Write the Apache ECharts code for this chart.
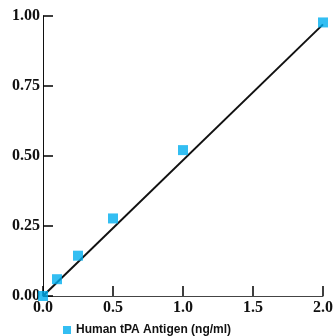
<!DOCTYPE html>
<html><head><meta charset="utf-8">
<script src="https://cdn.jsdelivr.net/npm/echarts@6/dist/echarts.min.js"></script>
<style>html,body{margin:0;padding:0;background:#fff}#c{width:336px;height:336px}</style>
</head><body><div id="c"></div>
<script>
var seriesName = 'Human tPA Antigen (ng/ml)';
var xValues = [0, 0.1, 0.25, 0.5, 1.0, 2.0];
var yValues = [0, 0.06, 0.144, 0.277, 0.521, 0.977];
var fitX = [0, 2.0];
var fitY = [0, 0.97];

var pts = xValues.map(function(x, i){ return [x, yValues[i]]; });
var fit = fitX.map(function(x, i){ return [x, fitY[i]]; });

var chart = echarts.init(document.getElementById('c'), null, {renderer:'canvas'});
var labelFont = {fontFamily:'Liberation Serif', fontWeight:'bold', fontSize:16, color:'#111'};
chart.setOption({
  animation:false,
  grid:{left:43, right:13, top:16, bottom:40, containLabel:false},
  legend:{
    data:[{name:seriesName, icon:'rect'}],
    left:58, top:319, itemWidth:8, itemHeight:8, itemGap:5,
    textStyle:{fontFamily:'Liberation Sans', fontWeight:'bold', fontSize:12, color:'#111'}
  },
  xAxis:{
    type:'value', min:0, max:2, interval:0.5,
    axisLine:{show:true, onZero:false, lineStyle:{color:'#444', width:1}},
    axisTick:{show:true, inside:true, length:10, lineStyle:{color:'#000', width:1.5}},
    axisLabel:Object.assign({margin:4, formatter:function(v){return v.toFixed(1);}}, labelFont),
    splitLine:{show:false}
  },
  yAxis:{
    type:'value', min:0, max:1, interval:0.25,
    axisLine:{show:true, onZero:false, lineStyle:{color:'#111', width:1}},
    axisTick:{show:true, inside:true, length:10, lineStyle:{color:'#000', width:1.5}},
    axisLabel:Object.assign({margin:3, formatter:function(v){return v.toFixed(2);}}, labelFont),
    splitLine:{show:false}
  },
  series:[
    {type:'line', data:fit, symbol:'none', lineStyle:{color:'#111', width:2}, silent:true, z:1, name:'fit'},
    {type:'scatter', name:seriesName, data:pts, symbol:'rect', symbolSize:10, itemStyle:{color:'#00aeef'}, z:3}
  ]
});
</script></body></html>
